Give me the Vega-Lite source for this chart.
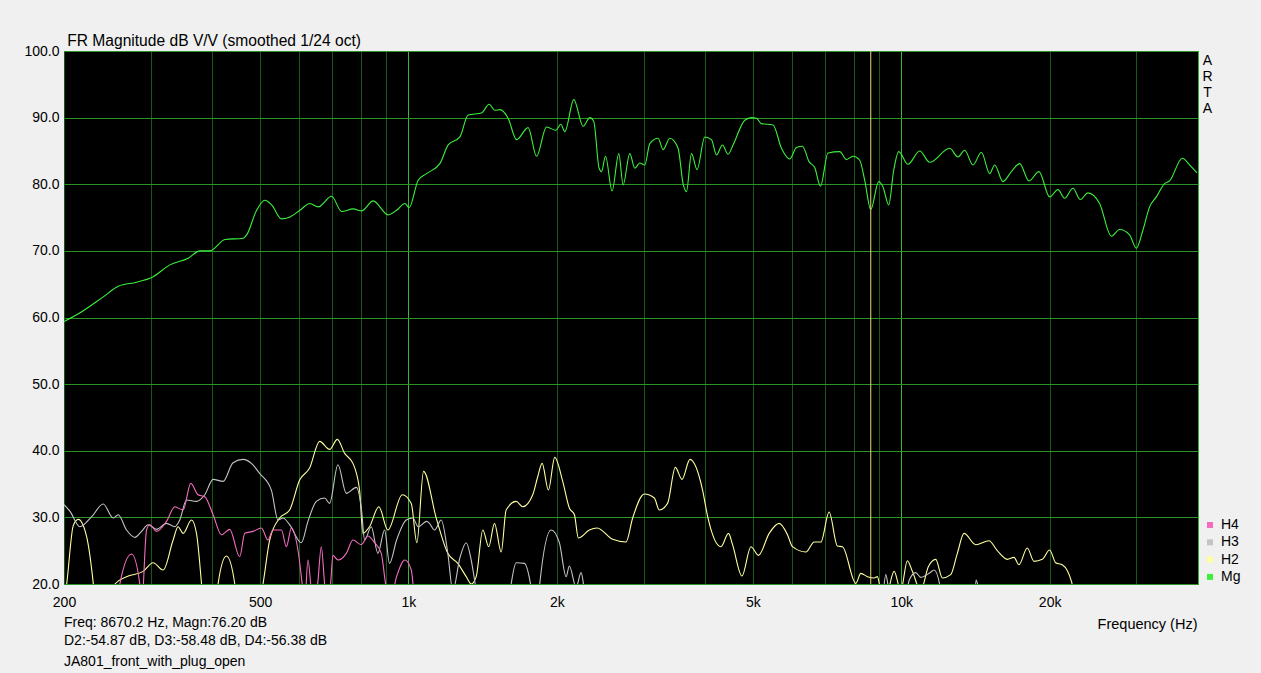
{
"$schema": "https://vega.github.io/schema/vega-lite/v6.json",
"width": 1134, "height": 533,
"autosize": {"type": "none"},
"padding": {"left": 64, "top": 51, "right": 63, "bottom": 89},
"background": "#f0f0f0",
"config": {"font": "Liberation Sans", "view": {"fill": "#000000", "stroke": "#34b034", "strokeWidth": 1}},
"title": {"text": ["Freq: 8670.2 Hz, Magn:76.20 dB", "D2:-54.87 dB, D3:-58.48 dB, D4:-56.38 dB"], "subtitle": "JA801_front_with_plug_open", "orient": "bottom", "anchor": "start", "frame": "group", "fontSize": 14, "fontWeight": "normal", "color": "#000000", "lineHeight": 18, "subtitleFontSize": 14, "subtitleColor": "#000000", "subtitleLineHeight": 18, "subtitlePadding": 7, "offset": -15, "baseline": "top"},
"datasets": {
"cursor": [{"f": 8670.2}],
"curves": [
{"s":"Mg","f":200,"db":59.4},{"s":"Mg","f":212.2,"db":60.4},{"s":"Mg","f":240.3,"db":63.1},{"s":"Mg","f":257.7,"db":64.7},{"s":"Mg","f":280.9,"db":65.3},{"s":"Mg","f":301.3,"db":66.0},{"s":"Mg","f":328.1,"db":67.9},{"s":"Mg","f":357.4,"db":68.9},{"s":"Mg","f":377.5,"db":70.0},{"s":"Mg","f":395.5,"db":70.0},{"s":"Mg","f":424.2,"db":71.7},{"s":"Mg","f":462.1,"db":71.9},{"s":"Mg","f":469.5,"db":72.4},{"s":"Mg","f":491.9,"db":76.1},{"s":"Mg","f":511.4,"db":77.6},{"s":"Mg","f":527.6,"db":76.9},{"s":"Mg","f":552.8,"db":74.8},{"s":"Mg","f":574.7,"db":75.1},{"s":"Mg","f":602.2,"db":76.1},{"s":"Mg","f":631.0,"db":77.1},{"s":"Mg","f":655.9,"db":76.6},{"s":"Mg","f":698.3,"db":78.2},{"s":"Mg","f":731.7,"db":75.9},{"s":"Mg","f":772.4,"db":76.3},{"s":"Mg","f":803.3,"db":76.0},{"s":"Mg","f":848.0,"db":77.5},{"s":"Mg","f":909.6,"db":75.4},{"s":"Mg","f":946.0,"db":76.1},{"s":"Mg","f":983.4,"db":77.1},{"s":"Mg","f":1003.3,"db":76.5},{"s":"Mg","f":1046.4,"db":80.6},{"s":"Mg","f":1088.3,"db":81.6},{"s":"Mg","f":1158,"db":83.1},{"s":"Mg","f":1203.8,"db":85.9},{"s":"Mg","f":1271.4,"db":87.1},{"s":"Mg","f":1321.6,"db":90.4},{"s":"Mg","f":1407,"db":90.7},{"s":"Mg","f":1457.8,"db":92.0},{"s":"Mg","f":1497.2,"db":91.1},{"s":"Mg","f":1532.5,"db":91.2},{"s":"Mg","f":1593.1,"db":89.9},{"s":"Mg","f":1656.9,"db":86.7},{"s":"Mg","f":1749.1,"db":88.5},{"s":"Mg","f":1819.1,"db":84.2},{"s":"Mg","f":1906.1,"db":88.6},{"s":"Mg","f":1990.7,"db":88.1},{"s":"Mg","f":2037.7,"db":89.0},{"s":"Mg","f":2076.1,"db":87.9},{"s":"Mg","f":2165.3,"db":92.7},{"s":"Mg","f":2261.4,"db":88.7},{"s":"Mg","f":2333.4,"db":90.0},{"s":"Mg","f":2377,"db":89.4},{"s":"Mg","f":2436.9,"db":82.4},{"s":"Mg","f":2464.4,"db":81.9},{"s":"Mg","f":2510.7,"db":84.2},{"s":"Mg","f":2589.3,"db":79.0},{"s":"Mg","f":2671.8,"db":84.6},{"s":"Mg","f":2726,"db":79.9},{"s":"Mg","f":2812.4,"db":84.6},{"s":"Mg","f":2879,"db":82.4},{"s":"Mg","f":2947,"db":83.2},{"s":"Mg","f":3016.8,"db":82.9},{"s":"Mg","f":3088,"db":86.1},{"s":"Mg","f":3210,"db":86.9},{"s":"Mg","f":3285.8,"db":85.2},{"s":"Mg","f":3390.2,"db":86.9},{"s":"Mg","f":3524.4,"db":85.4},{"s":"Mg","f":3607.6,"db":80.1},{"s":"Mg","f":3665.4,"db":78.9},{"s":"Mg","f":3752,"db":84.6},{"s":"Mg","f":3851.4,"db":82.2},{"s":"Mg","f":3992.4,"db":87.1},{"s":"Mg","f":4119.2,"db":86.7},{"s":"Mg","f":4216.6,"db":84.4},{"s":"Mg","f":4336.4,"db":85.9},{"s":"Mg","f":4451.4,"db":84.5},{"s":"Mg","f":4556.6,"db":85.9},{"s":"Mg","f":4812.4,"db":89.6},{"s":"Mg","f":4965.4,"db":90.0},{"s":"Mg","f":5082.8,"db":89.9},{"s":"Mg","f":5202.8,"db":89.1},{"s":"Mg","f":5492.4,"db":88.9},{"s":"Mg","f":5712.2,"db":85.4},{"s":"Mg","f":5938.2,"db":83.8},{"s":"Mg","f":6126.8,"db":85.5},{"s":"Mg","f":6301,"db":85.7},{"s":"Mg","f":6498,"db":83.4},{"s":"Mg","f":6673.6,"db":82.5},{"s":"Mg","f":6853.6,"db":79.7},{"s":"Mg","f":7101,"db":84.7},{"s":"Mg","f":7500.2,"db":84.9},{"s":"Mg","f":7738.6,"db":83.7},{"s":"Mg","f":7980.8,"db":84.2},{"s":"Mg","f":8234.4,"db":83.6},{"s":"Mg","f":8429.2,"db":80.6},{"s":"Mg","f":8670.2,"db":76.2},{"s":"Mg","f":8998.4,"db":80.4},{"s":"Mg","f":9181.2,"db":79.6},{"s":"Mg","f":9429,"db":76.9},{"s":"Mg","f":9651.6,"db":82.1},{"s":"Mg","f":9879.6,"db":84.9},{"s":"Mg","f":10318,"db":83.0},{"s":"Mg","f":10898,"db":85.0},{"s":"Mg","f":11419,"db":83.3},{"s":"Mg","f":12537,"db":85.4},{"s":"Mg","f":13032,"db":84.1},{"s":"Mg","f":13447,"db":85.1},{"s":"Mg","f":13978,"db":82.9},{"s":"Mg","f":14538,"db":84.8},{"s":"Mg","f":15112,"db":81.6},{"s":"Mg","f":15469,"db":82.9},{"s":"Mg","f":16081,"db":80.4},{"s":"Mg","f":16724,"db":81.9},{"s":"Mg","f":17385,"db":83.1},{"s":"Mg","f":18157,"db":80.5},{"s":"Mg","f":19025,"db":81.9},{"s":"Mg","f":20000,"db":78.1},{"s":"Mg","f":20790,"db":79.2},{"s":"Mg","f":21452,"db":77.9},{"s":"Mg","f":22299,"db":79.4},{"s":"Mg","f":23084,"db":77.7},{"s":"Mg","f":23918,"db":78.7},{"s":"Mg","f":25260,"db":77.1},{"s":"Mg","f":26680,"db":72.2},{"s":"Mg","f":27734,"db":73.2},{"s":"Mg","f":29060,"db":72.4},{"s":"Mg","f":29984,"db":70.4},{"s":"Mg","f":30922,"db":73.1},{"s":"Mg","f":31906,"db":76.6},{"s":"Mg","f":32920,"db":78.1},{"s":"Mg","f":34220,"db":80.1},{"s":"Mg","f":35030,"db":80.5},{"s":"Mg","f":37170,"db":83.9},{"s":"Mg","f":38460,"db":82.9},{"s":"Mg","f":39800,"db":81.7},
{"s":"H2","f":200,"db":17},{"s":"H2","f":202.6,"db":20.1},{"s":"H2","f":208.9,"db":28.8},{"s":"H2","f":213.8,"db":29.7},{"s":"H2","f":222.3,"db":27.1},{"s":"H2","f":229.3,"db":20.1},{"s":"H2","f":232.2,"db":16},{"s":"H2","f":250.2,"db":16},{"s":"H2","f":253.7,"db":20.0},{"s":"H2","f":267.9,"db":21.1},{"s":"H2","f":289.5,"db":21.9},{"s":"H2","f":303.3,"db":23.2},{"s":"H2","f":317.8,"db":22.1},{"s":"H2","f":333.0,"db":26.6},{"s":"H2","f":340.8,"db":28.6},{"s":"H2","f":348.9,"db":27.6},{"s":"H2","f":362.8,"db":29.6},{"s":"H2","f":371.4,"db":27.6},{"s":"H2","f":380.2,"db":20.1},{"s":"H2","f":384.3,"db":16},{"s":"H2","f":404.6,"db":16},{"s":"H2","f":410.8,"db":20.0},{"s":"H2","f":427.2,"db":24.2},{"s":"H2","f":444.2,"db":20.0},{"s":"H2","f":450.4,"db":16},{"s":"H2","f":494.4,"db":16},{"s":"H2","f":506.8,"db":20},{"s":"H2","f":522.8,"db":26.6},{"s":"H2","f":547.8,"db":29.9},{"s":"H2","f":573.9,"db":31.1},{"s":"H2","f":601.4,"db":35.6},{"s":"H2","f":630.1,"db":37.4},{"s":"H2","f":660.2,"db":41.4},{"s":"H2","f":691.7,"db":40.2},{"s":"H2","f":717.2,"db":41.7},{"s":"H2","f":742.2,"db":39.6},{"s":"H2","f":771.5,"db":38.1},{"s":"H2","f":795.8,"db":34.1},{"s":"H2","f":808.3,"db":27.6},{"s":"H2","f":833.7,"db":28.6},{"s":"H2","f":870.8,"db":31.6},{"s":"H2","f":908.2,"db":28.1},{"s":"H2","f":971.4,"db":33.4},{"s":"H2","f":1013.1,"db":32.1},{"s":"H2","f":1039.9,"db":26.2},{"s":"H2","f":1073.1,"db":36.9},{"s":"H2","f":1138.6,"db":29.9},{"s":"H2","f":1201.8,"db":24.6},{"s":"H2","f":1259.2,"db":23.1},{"s":"H2","f":1309.7,"db":21.1},{"s":"H2","f":1340.6,"db":20.0},{"s":"H2","f":1372.3,"db":21.1},{"s":"H2","f":1415.2,"db":28.1},{"s":"H2","f":1455.1,"db":25.6},{"s":"H2","f":1494.8,"db":29.1},{"s":"H2","f":1542.1,"db":24.8},{"s":"H2","f":1578.6,"db":31.1},{"s":"H2","f":1653.9,"db":32.4},{"s":"H2","f":1705.8,"db":31.6},{"s":"H2","f":1787.3,"db":33.4},{"s":"H2","f":1829.3,"db":36.1},{"s":"H2","f":1867.3,"db":38.1},{"s":"H2","f":1922.8,"db":34.1},{"s":"H2","f":1980.6,"db":39.0},{"s":"H2","f":2055.9,"db":35.4},{"s":"H2","f":2120.6,"db":31.4},{"s":"H2","f":2171.3,"db":30.4},{"s":"H2","f":2211.8,"db":26.9},{"s":"H2","f":2328.1,"db":28.1},{"s":"H2","f":2413.8,"db":28.4},{"s":"H2","f":2596.3,"db":26.7},{"s":"H2","f":2763.7,"db":26.3},{"s":"H2","f":2850.3,"db":29.9},{"s":"H2","f":3010.5,"db":33.5},{"s":"H2","f":3154.4,"db":32.9},{"s":"H2","f":3227.8,"db":31.1},{"s":"H2","f":3355.7,"db":32.1},{"s":"H2","f":3479.2,"db":37.5},{"s":"H2","f":3589.5,"db":35.7},{"s":"H2","f":3725.5,"db":38.7},{"s":"H2","f":3951.8,"db":34.1},{"s":"H2","f":4044.6,"db":30.2},{"s":"H2","f":4305.9,"db":25.6},{"s":"H2","f":4460.5,"db":27.6},{"s":"H2","f":4545.9,"db":25.9},{"s":"H2","f":4749.7,"db":21.2},{"s":"H2","f":4953.1,"db":25.6},{"s":"H2","f":5131.1,"db":24.3},{"s":"H2","f":5393.9,"db":27.6},{"s":"H2","f":5651.5,"db":29.1},{"s":"H2","f":5875.6,"db":27.4},{"s":"H2","f":6015.2,"db":25.6},{"s":"H2","f":6403.2,"db":24.8},{"s":"H2","f":6656.7,"db":26.3},{"s":"H2","f":6867.2,"db":26.3},{"s":"H2","f":7137.3,"db":30.8},{"s":"H2","f":7420.2,"db":25.7},{"s":"H2","f":7596.5,"db":25.6},{"s":"H2","f":8086.4,"db":20.1},{"s":"H2","f":8277.0,"db":21.6},{"s":"H2","f":8536.6,"db":21.1},{"s":"H2","f":8808.4,"db":20.9},{"s":"H2","f":8943.4,"db":21.1},{"s":"H2","f":9087,"db":19},{"s":"H2","f":9300,"db":18},{"s":"H2","f":9670.3,"db":21.9},{"s":"H2","f":9976,"db":19},{"s":"H2","f":10288,"db":23.5},{"s":"H2","f":10532,"db":21.9},{"s":"H2","f":10952,"db":19},{"s":"H2","f":11346,"db":22.6},{"s":"H2","f":11747,"db":23.7},{"s":"H2","f":12116,"db":20.9},{"s":"H2","f":12599,"db":21.4},{"s":"H2","f":12993,"db":24.6},{"s":"H2","f":13408,"db":27.6},{"s":"H2","f":14159,"db":25.9},{"s":"H2","f":15063,"db":26.5},{"s":"H2","f":15660,"db":25.0},{"s":"H2","f":16408,"db":23.7},{"s":"H2","f":16932,"db":24.0},{"s":"H2","f":17327,"db":22.9},{"s":"H2","f":18014,"db":25.4},{"s":"H2","f":18589,"db":23.4},{"s":"H2","f":19323,"db":23.7},{"s":"H2","f":20000,"db":25.1},{"s":"H2","f":20569,"db":23.2},{"s":"H2","f":21214,"db":22.9},{"s":"H2","f":22165,"db":20.3},{"s":"H2","f":22511,"db":16},
{"s":"H3","f":200,"db":31.9},{"s":"H3","f":205.7,"db":30.9},{"s":"H3","f":215.4,"db":28.6},{"s":"H3","f":227.6,"db":30.1},{"s":"H3","f":240.2,"db":32.0},{"s":"H3","f":251.7,"db":29.9},{"s":"H3","f":257.6,"db":30.4},{"s":"H3","f":267.9,"db":28.1},{"s":"H3","f":278.5,"db":27.0},{"s":"H3","f":287.3,"db":27.9},{"s":"H3","f":296.3,"db":28.9},{"s":"H3","f":308.2,"db":28.2},{"s":"H3","f":322.9,"db":29.1},{"s":"H3","f":335.7,"db":28.6},{"s":"H3","f":343.5,"db":29.6},{"s":"H3","f":354.5,"db":32.6},{"s":"H3","f":371.4,"db":32.4},{"s":"H3","f":386.1,"db":33.4},{"s":"H3","f":401.4,"db":35.7},{"s":"H3","f":420.5,"db":35.4},{"s":"H3","f":440.6,"db":38.2},{"s":"H3","f":462.1,"db":38.7},{"s":"H3","f":480.1,"db":38.1},{"s":"H3","f":498.9,"db":36.6},{"s":"H3","f":527.0,"db":34.1},{"s":"H3","f":543.5,"db":29.6},{"s":"H3","f":556.5,"db":29.9},{"s":"H3","f":573.9,"db":28.9},{"s":"H3","f":606.3,"db":26.2},{"s":"H3","f":625.2,"db":29.4},{"s":"H3","f":650.3,"db":32.4},{"s":"H3","f":676.0,"db":32.9},{"s":"H3","f":691.7,"db":32.1},{"s":"H3","f":719.2,"db":37.9},{"s":"H3","f":748.0,"db":33.6},{"s":"H3","f":783.8,"db":34.5},{"s":"H3","f":802.3,"db":31.4},{"s":"H3","f":814.8,"db":26.6},{"s":"H3","f":840.5,"db":28.6},{"s":"H3","f":866.8,"db":24.6},{"s":"H3","f":894.5,"db":28.1},{"s":"H3","f":915.3,"db":23.1},{"s":"H3","f":946.0,"db":26.6},{"s":"H3","f":989.7,"db":29.6},{"s":"H3","f":1020.7,"db":29.9},{"s":"H3","f":1046.4,"db":28.6},{"s":"H3","f":1088.3,"db":29.4},{"s":"H3","f":1103.3,"db":29.1},{"s":"H3","f":1129.7,"db":28.1},{"s":"H3","f":1165.4,"db":29.6},{"s":"H3","f":1201.8,"db":24.6},{"s":"H3","f":1230.3,"db":19},{"s":"H3","f":1271.4,"db":23.9},{"s":"H3","f":1309.7,"db":26.2},{"s":"H3","f":1340.6,"db":23.6},{"s":"H3","f":1372.3,"db":19},{"s":"H3","f":1393.2,"db":16},{"s":"H3","f":1588.1,"db":16},{"s":"H3","f":1615.7,"db":20},{"s":"H3","f":1653.9,"db":23.2},{"s":"H3","f":1719.4,"db":23.1},{"s":"H3","f":1773.8,"db":19.5},{"s":"H3","f":1801.6,"db":16},{"s":"H3","f":1829,"db":16},{"s":"H3","f":1843.6,"db":19.5},{"s":"H3","f":1947.3,"db":28.1},{"s":"H3","f":2023.9,"db":26.2},{"s":"H3","f":2088.7,"db":21.1},{"s":"H3","f":2120.6,"db":22.7},{"s":"H3","f":2188.4,"db":19.5},{"s":"H3","f":2240,"db":21.7},{"s":"H3","f":2275.1,"db":19},{"s":"H3","f":2306.8,"db":16},{"s":"H3","f":9099.8,"db":16},{"s":"H3","f":9301.8,"db":21.4},{"s":"H3","f":9444.2,"db":19},{"s":"H3","f":10132,"db":16},{"s":"H3","f":10368,"db":20.5},{"s":"H3","f":10700,"db":21.7},{"s":"H3","f":10952,"db":21.0},{"s":"H3","f":11438,"db":21.7},{"s":"H3","f":11655,"db":22.1},{"s":"H3","f":12025,"db":19},{"s":"H3","f":12156,"db":16},{"s":"H3","f":14049,"db":16},{"s":"H3","f":14180,"db":20.6},{"s":"H3","f":14375,"db":19},{"s":"H3","f":14582,"db":16},
{"s":"H4","f":257.3,"db":16},{"s":"H4","f":259.6,"db":20},{"s":"H4","f":274.3,"db":24.5},{"s":"H4","f":285.0,"db":20},{"s":"H4","f":287.6,"db":17},{"s":"H4","f":294.1,"db":28.1},{"s":"H4","f":298.6,"db":28.9},{"s":"H4","f":308.2,"db":27.9},{"s":"H4","f":322.9,"db":29.4},{"s":"H4","f":335.7,"db":31.6},{"s":"H4","f":348.9,"db":31.1},{"s":"H4","f":361.6,"db":35.1},{"s":"H4","f":374.2,"db":33.4},{"s":"H4","f":386.1,"db":33.1},{"s":"H4","f":401.4,"db":30.4},{"s":"H4","f":417.3,"db":27.4},{"s":"H4","f":433.8,"db":28.2},{"s":"H4","f":454.5,"db":24.1},{"s":"H4","f":465.4,"db":27.6},{"s":"H4","f":483.7,"db":27.9},{"s":"H4","f":503.0,"db":28.4},{"s":"H4","f":518.7,"db":26.6},{"s":"H4","f":531.0,"db":28.1},{"s":"H4","f":552.3,"db":28.1},{"s":"H4","f":565.3,"db":25.6},{"s":"H4","f":578.6,"db":28.4},{"s":"H4","f":596.7,"db":25.1},{"s":"H4","f":610.9,"db":19},{"s":"H4","f":615.8,"db":17},{"s":"H4","f":625.2,"db":23.6},{"s":"H4","f":635.3,"db":19},{"s":"H4","f":642.2,"db":17},{"s":"H4","f":654.2,"db":20},{"s":"H4","f":665.5,"db":25.6},{"s":"H4","f":676.0,"db":20},{"s":"H4","f":686.3,"db":17},{"s":"H4","f":694.9,"db":20},{"s":"H4","f":702.7,"db":24.3},{"s":"H4","f":719.2,"db":23.6},{"s":"H4","f":748.0,"db":24.6},{"s":"H4","f":771.5,"db":26.6},{"s":"H4","f":802.3,"db":25.9},{"s":"H4","f":827.0,"db":27.2},{"s":"H4","f":853.7,"db":26.2},{"s":"H4","f":880.7,"db":24.6},{"s":"H4","f":898.7,"db":20},{"s":"H4","f":915.3,"db":17},{"s":"H4","f":946.0,"db":21.1},{"s":"H4","f":983.4,"db":23.6},{"s":"H4","f":1013.1,"db":22.1},{"s":"H4","f":1028.9,"db":17}
]},
"layer": [
{"data": {"name": "curves"},
 "mark": {"type": "line", "clip": true, "strokeWidth": 1.1, "interpolate": "monotone"},
 "encoding": {
  "x": {"field": "f", "type": "quantitative",
        "scale": {"type": "log", "domain": [200, 40000], "nice": false},
        "axis": {"values": [200,300,400,500,600,700,800,900,1000,2000,3000,4000,5000,6000,7000,8000,9000,10000,20000,30000],
                 "labelExpr": "datum.value==200?'200':datum.value==500?'500':datum.value==1000?'1k':datum.value==2000?'2k':datum.value==5000?'5k':datum.value==10000?'10k':datum.value==20000?'20k':''",
                 "labelFlush": false, "labelOverlap": false, "labelFontSize": 14, "labelColor": "#000000", "labelBaseline": "alphabetic", "labelPadding": 22,
                 "ticks": false, "tickSize": 0, "domain": false, "grid": true, "gridOpacity": 1, "gridWidth": 1,
                 "gridColor": {"condition": {"test": "datum.value==1000||datum.value==10000", "value": "#38b838"}, "value": "#175a17"},
                 "title": "Frequency (Hz)", "titleX": 1133, "titleY": 44, "titleAlign": "right", "titleBaseline": "alphabetic", "titleFontSize": 14.5, "titleFontWeight": "normal", "titleColor": "#000000"}},
  "y": {"field": "db", "type": "quantitative",
        "scale": {"domain": [20, 100], "nice": false, "zero": false},
        "axis": {"values": [20,30,40,50,60,70,80,90,100], "format": ".1f", "labelFontSize": 14, "labelColor": "#000000", "labelPadding": 5,
                 "ticks": false, "tickSize": 0, "domain": false, "grid": true, "gridOpacity": 1, "gridColor": "#2a932a",
                 "title": "FR Magnitude dB V/V (smoothed 1/24 oct)", "titleAngle": 0, "titleX": 2.7, "titleY": -6, "titleAlign": "left", "titleBaseline": "alphabetic", "titleFontSize": 15.6, "titleFontWeight": "normal", "titleColor": "#000000"}},
  "color": {"field": "s", "type": "nominal",
        "scale": {"domain": ["H4", "H3", "H2", "Mg"], "range": ["#f46cc0", "#c4c4c4", "#ffffa0", "#3cf03c"]},
        "legend": {"orient": "none", "legendX": 1139, "legendY": 467, "title": null, "symbolType": "square", "symbolSize": 36, "labelFontSize": 14, "labelColor": "#000000", "labelOffset": 4, "rowPadding": 3.3, "padding": 0, "symbolStrokeWidth": 0,
                   "encode": {"symbols": {"update": {"fill": {"scale": "color", "field": "value"}, "fillOpacity": {"value": 1}, "strokeWidth": {"value": 0}}}}}}
 }},
{"data": {"name": "cursor"},
 "mark": {"type": "rule", "color": "#e6dc78", "strokeWidth": 1},
 "encoding": {
  "x": {"field": "f", "type": "quantitative", "scale": {"type": "log", "domain": [200, 40000], "nice": false},
        "axis": {"orient": "top", "labels": false, "ticks": false, "domain": false, "grid": false,
                 "title": ["A", "R", "T", "A"], "titleAngle": 0, "titleX": 1143, "titleY": 2, "titleAlign": "center", "titleBaseline": "top", "titleFontSize": 14, "titleFontWeight": "normal", "titleLineHeight": 16, "titleColor": "#000000"}}
 }}
],
"resolve": {"axis": {"x": "independent"}}
}
